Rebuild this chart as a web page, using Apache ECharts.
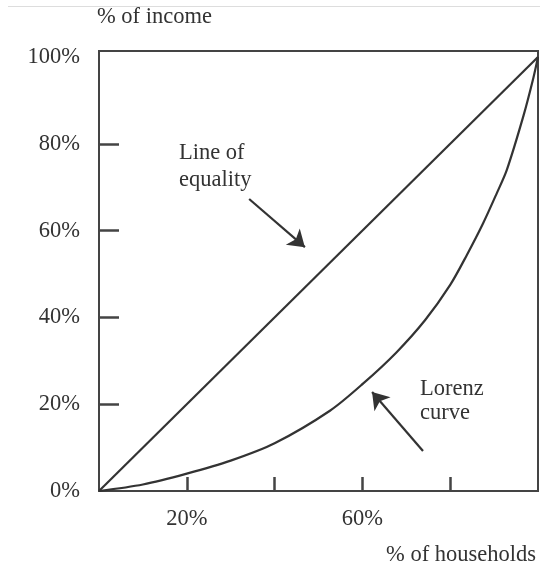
<!DOCTYPE html>
<html>
<head>
<meta charset="utf-8">
<script src="https://cdn.jsdelivr.net/npm/echarts@6/dist/echarts.min.js"></script>
<style>html,body{margin:0;padding:0;background:#fff}#c{width:540px;height:572px}</style>
</head>
<body>
<div id="c"></div>
<script>
// Data
var equalityX = [0, 100];
var equalityY = [0, 100];
var lorenzX = [0, 10, 20, 30, 40, 52.6, 60.2, 67.8, 74.3, 80, 83.8, 87.5, 90.6, 92.9, 96.7, 98.9, 100];
var lorenzY = [0, 1.5, 4, 7, 11, 18.5, 24.8, 32, 39.4, 47.5, 54.4, 61.7, 68.6, 74, 86.5, 95, 100];
var yTickValues = [20, 40, 60, 80];
var yLabelValues = [0, 20, 40, 60, 80, 100];
var xTickValues = [20, 40, 60, 80];
var xLabelValues = [20, 60];
var equalityArrow = [[34.2, 67.3], [46.9, 56.2]];
var lorenzArrow = [[73.8, 9.2], [62.2, 22.8]];

var FONT = '"Liberation Serif", "Times New Roman", serif';
var FS = 22.5;
var TXT = '#333';
var LINE = '#333';

function zip(a, b) { return a.map(function (v, i) { return [v, b[i]]; }); }

var chart = echarts.init(document.getElementById('c'), null, {renderer: 'canvas'});
chart.setOption({
  animation: false,
  backgroundColor: '#fff',
  grid: {left: 99, right: 2, top: 51, bottom: 81, show: true, borderColor: '#444', borderWidth: 2, backgroundColor: 'transparent'},
  xAxis: {
    type: 'value', min: 0, max: 100, interval: 20,
    axisLine: {show: true, onZero: false, lineStyle: {color: '#444', width: 2}},
    axisTick: {show: true, inside: true, length: 14, customValues: xTickValues, lineStyle: {color: '#444', width: 2.5}},
    axisLabel: {customValues: xLabelValues, margin: 17, color: TXT, fontFamily: FONT, fontSize: FS, formatter: function (v) { return v + '%'; }},
    splitLine: {show: false}
  },
  yAxis: {
    type: 'value', min: 0, max: 101.4, interval: 20,
    axisLine: {show: true, onZero: false, lineStyle: {color: '#444', width: 2}},
    axisTick: {show: true, inside: true, length: 20, customValues: yTickValues, lineStyle: {color: '#444', width: 2.5}},
    axisLabel: {customValues: yLabelValues, margin: 19, color: TXT, fontFamily: FONT, fontSize: FS, formatter: function (v) { return v + '%'; }},
    splitLine: {show: false}
  },
  series: [
    {type: 'line', data: zip(equalityX, equalityY), symbol: 'none', lineStyle: {color: LINE, width: 2.2}},
    {type: 'line', data: zip(lorenzX, lorenzY), symbol: 'none', smooth: 0.3, lineStyle: {color: LINE, width: 2.2}},
    {type: 'lines', coordinateSystem: 'cartesian2d', symbol: ['none', 'arrow'], symbolSize: 16,
      lineStyle: {color: LINE, width: 2.2, opacity: 1},
      data: [{coords: equalityArrow}, {coords: lorenzArrow}]}
  ],
  graphic: [
    {type: 'line', shape: {x1: 8, y1: 6.5, x2: 540, y2: 6.5}, style: {stroke: '#ddd', lineWidth: 1}},
    {type: 'text', left: 97, top: 6, style: {text: '% of income', fill: TXT, font: FS + 'px ' + FONT}},
    {type: 'text', right: 4, top: 544, style: {text: '% of households', fill: TXT, font: FS + 'px ' + FONT}},
    {type: 'text', left: 179, top: 140, style: {text: 'Line of\nequality', fill: TXT, font: FS + 'px ' + FONT, lineHeight: 27}},
    {type: 'text', left: 420, top: 377, style: {text: 'Lorenz\ncurve', fill: TXT, font: FS + 'px ' + FONT, lineHeight: 24}}
  ]
});
</script>
</body>
</html>
